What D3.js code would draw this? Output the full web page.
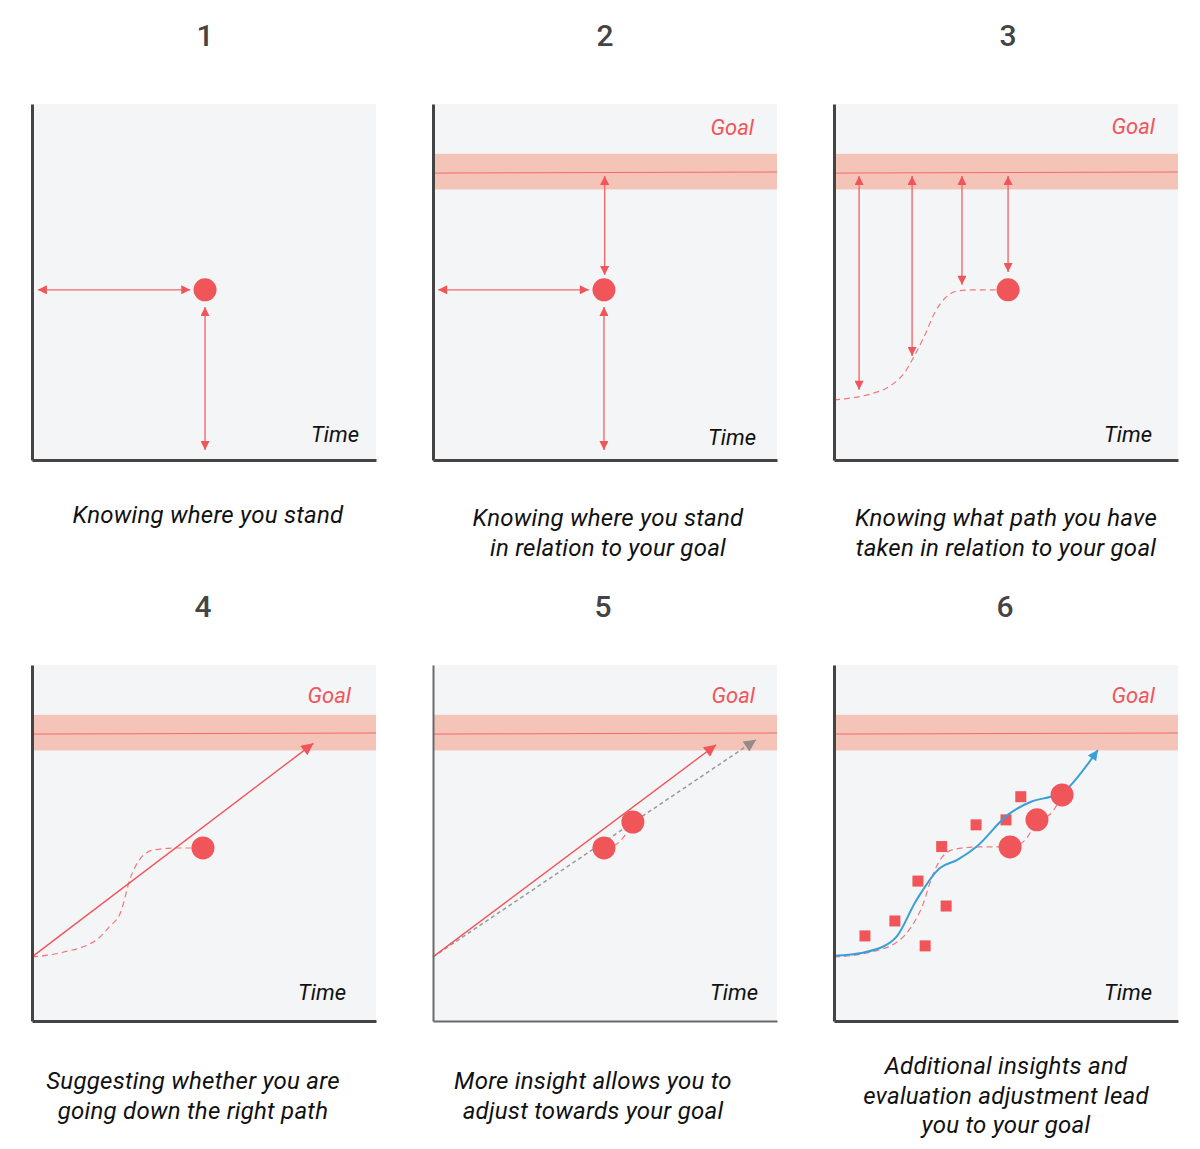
<!DOCTYPE html>
<html>
<head>
<meta charset="utf-8">
<script src="https://cdn.jsdelivr.net/npm/d3@7/dist/d3.min.js"></script>
<style>
  html, body { margin: 0; padding: 0; background: #ffffff; }
  svg { display: block; }
  text { font-family: Roboto, "Noto Sans", sans-serif; }
</style>
</head>
<body>
<svg id="chart" width="1200" height="1149"></svg>
<script>
// ---------- DATA (time 0-100, value 0-100 in each panel) ----------
const panelNumbers = ["1", "2", "3", "4", "5", "6"];
const captions = [
  ["Knowing where you stand"],
  ["Knowing where you stand", "in relation to your goal"],
  ["Knowing what path you have", "taken in relation to your goal"],
  ["Suggesting whether you are", "going down the right path"],
  ["More insight allows you to", "adjust towards your goal"],
  ["Additional insights and", "evaluation adjustment lead", "you to your goal"]
];
const axisLabel = "Time";
const goalLabel = "Goal";
const goalBand = [76, 86];
const goalLine = [80.6, 80.9];          // slight slope left -> right
const showGoal = [false, true, true, true, true, true];

// current position dots
const dotsP1 = [{t: 50.3, v: 47.8}];
const dotsP2 = [{t: 49.7, v: 47.8}];
const dotsP3 = [{t: 50.6, v: 47.8}];
const dotsP4 = [{t: 49.7, v: 48.6}];
const dotsP5 = [{t: 49.7, v: 48.6}, {t: 58.1, v: 55.9}];
const dotsP6 = [{t: 51.2, v: 48.9}, {t: 59.0, v: 56.5}, {t: 66.3, v: 63.5}];

// distance arrows [from, to]
const arrowsP1 = [
  [{t: 1.7, v: 47.8}, {t: 46.0, v: 47.8}],
  [{t: 50.3, v: 43.0}, {t: 50.3, v: 2.8}]
];
const arrowsP2 = [
  [{t: 1.5, v: 47.8}, {t: 45.3, v: 47.8}],
  [{t: 49.7, v: 43.0}, {t: 49.7, v: 2.8}],
  [{t: 49.9, v: 79.8}, {t: 49.9, v: 52.0}]
];
const checkTimesP3 = [7.3, 22.7, 37.2, 50.6];
const checkValuesP3 = [19.7, 29.2, 49.2, 52.8];
const goalArrowTop = 79.8;

// historic path (dashed)
const historyPath = [
  {t: 0, v: 16.9}, {t: 4.7, v: 17.4}, {t: 10.5, v: 18.5}, {t: 16.3, v: 20.8},
  {t: 20.6, v: 24.7}, {t: 23.5, v: 29.5}, {t: 26.4, v: 35.1}, {t: 29.4, v: 41.6},
  {t: 32.3, v: 45.5}, {t: 36.0, v: 47.5}, {t: 41.0, v: 47.8}, {t: 47.0, v: 47.8}
];
const historyPathP4 = [
  {t: 0, v: 18.0}, {t: 9.0, v: 19.3}, {t: 18.9, v: 22.9}, {t: 22.5, v: 26.5},
  {t: 25.8, v: 30.6}, {t: 28.5, v: 39.9}, {t: 31.4, v: 45.5}, {t: 35.2, v: 48.0},
  {t: 42.2, v: 48.6}, {t: 47.0, v: 48.6}
];
const historyPathP6 = [
  {t: 0, v: 18.0}, {t: 9.0, v: 19.0}, {t: 18.9, v: 22.6}, {t: 22.5, v: 26.5},
  {t: 25.8, v: 32.6}, {t: 28.5, v: 40.5}, {t: 31.4, v: 46.0}, {t: 35.2, v: 48.3},
  {t: 42.2, v: 48.9}, {t: 48.5, v: 48.9}
];

// trend arrows
const trendP4 = [{t: 0, v: 18.0}, {t: 81.8, v: 78.0}];
const trendP5 = [{t: 0, v: 18.0}, {t: 82.3, v: 77.6}];
const adjustedP5 = [{t: 0, v: 18.0}, {t: 93.9, v: 79.0}];

// panel 6: insights (squares) and adjusted path (blue)
const insightsP6 = [
  {t: 9.0, v: 23.9}, {t: 17.7, v: 28.1}, {t: 24.4, v: 39.3}, {t: 31.3, v: 49.0},
  {t: 32.6, v: 32.3}, {t: 26.5, v: 21.1}, {t: 41.3, v: 55.1}, {t: 50.0, v: 56.5},
  {t: 54.3, v: 63.0}
];
const adjustedPathP6 = [
  {t: 0, v: 18.3}, {t: 8.4, v: 19.2}, {t: 14.5, v: 21.0}, {t: 18.2, v: 23.7},
  {t: 24.0, v: 34.0}, {t: 30.8, v: 43.0}, {t: 35.7, v: 45.2}, {t: 41.5, v: 49.0},
  {t: 50.5, v: 57.9}, {t: 57.3, v: 61.6}, {t: 63.0, v: 63.0}, {t: 66.9, v: 64.5},
  {t: 76.7, v: 76.1}
];

// ---------- LAYOUT ----------
const W = 344, H = 356;
const lefts = [32, 433, 834];
const rowTops = [104, 665];
const titleX = [[205, 605, 1008], [203, 603, 1005]];
const titleY = [46, 617];
const captionX = [208, 608, 1006, 193, 593, 1006];
const captionY = [523, 526, 526, 1089, 1089, 1074];
const timeRight = [359, 756, 1152, 346, 758, 1152];
const timeOffset = [18, 15, 18, 21, 21, 21];
const goalRight = [0, 754, 1155, 351, 755, 1155];
const goalOffset = [0, 31, 30, 38, 38, 38];

const RED = "#f0555a";
const RED_LINE = "#f26a6a";
const BAND = "#f5c4b9";
const BG = "#f4f5f7";
const BLUE = "#3b9fd5";
const GRAY = "#9a9a9a";

const svg = d3.select("#chart");
const defs = svg.append("defs");
function marker(id, color, w, h) {
  defs.append("marker")
    .attr("id", id)
    .attr("viewBox", "0 0 10 10")
    .attr("refX", 10).attr("refY", 5)
    .attr("markerUnits", "userSpaceOnUse")
    .attr("markerWidth", w).attr("markerHeight", h)
    .attr("orient", "auto-start-reverse")
    .append("path").attr("d", "M0,0L10,5L0,10Z").attr("fill", color);
}
marker("arRed", RED, 10, 9);
marker("arRedBig", RED, 14, 12);
marker("arBlue", BLUE, 11, 10);
marker("arGray", "#948a8a", 14, 12);

const panels = panelNumbers.map((n, i) => {
  const row = Math.floor(i / 3), col = i % 3;
  const left = lefts[col], top = rowTops[row];
  const x = d3.scaleLinear().domain([0, 100]).range([left, left + W]);
  const y = d3.scaleLinear().domain([0, 100]).range([top + H, top]);
  return {i, n, row, col, left, top, x, y};
});

panels.forEach(p => {
  const g = svg.append("g");
  p.g = g;
  // title
  svg.append("text")
    .attr("x", titleX[p.row][p.col]).attr("y", titleY[p.row])
    .attr("text-anchor", "middle")
    .attr("font-size", 30).attr("font-weight", 500).attr("fill", "#444")
    .text(p.n);
  // background
  g.append("rect")
    .attr("x", p.x(0)).attr("y", p.y(100))
    .attr("width", p.x(100) - p.x(0)).attr("height", p.y(0) - p.y(100))
    .attr("fill", BG);
  // goal band
  if (showGoal[p.i]) {
    g.append("rect")
      .attr("x", p.x(0)).attr("y", p.y(goalBand[1]))
      .attr("width", p.x(100) - p.x(0)).attr("height", p.y(goalBand[0]) - p.y(goalBand[1]))
      .attr("fill", BAND);
    g.append("line")
      .attr("x1", p.x(0)).attr("x2", p.x(100))
      .attr("y1", p.y(goalLine[0])).attr("y2", p.y(goalLine[1]))
      .attr("stroke", RED_LINE).attr("stroke-width", 1);
    g.append("text")
      .attr("x", goalRight[p.i]).attr("y", p.top + goalOffset[p.i])
      .attr("text-anchor", "end")
      .attr("font-size", 22).attr("font-style", "italic").attr("fill", RED)
      .text(goalLabel);
  }
  // time label
  g.append("text")
    .attr("x", timeRight[p.i]).attr("y", p.y(0) - timeOffset[p.i])
    .attr("text-anchor", "end")
    .attr("font-size", 22).attr("font-style", "italic").attr("fill", "#111")
    .text(axisLabel);
  // captions
  const cap = svg.append("text")
    .attr("text-anchor", "middle")
    .attr("font-size", 24).attr("font-style", "italic").attr("fill", "#111")
    .attr("letter-spacing", 0.25);
  captions[p.i].forEach((line, k) => {
    cap.append("tspan").attr("x", captionX[p.i]).attr("y", captionY[p.i] + k * 29.5).text(line);
  });
});

function lineGen(p, curve) {
  return d3.line().x(d => p.x(d.t)).y(d => p.y(d.v)).curve(curve || d3.curveLinear);
}
function doubleArrow(p, pair) {
  p.g.append("path").attr("d", lineGen(p)(pair))
    .attr("fill", "none").attr("stroke", RED_LINE).attr("stroke-width", 1.4)
    .attr("marker-start", "url(#arRed)").attr("marker-end", "url(#arRed)");
}
function history(p, pts) {
  p.g.append("path").attr("d", lineGen(p, d3.curveMonotoneX)(pts))
    .attr("fill", "none").attr("stroke", "#f07a7a").attr("stroke-width", 1.2)
    .attr("stroke-dasharray", "6,4");
}
function connector(p, a, b) {
  const pts = [a, {t: a.t + (b.t - a.t) * 0.55, v: a.v + (b.v - a.v) * 0.1}, b];
  p.g.append("path").attr("d", lineGen(p, d3.curveBasis)(pts))
    .attr("fill", "none").attr("stroke", "#f07a7a").attr("stroke-width", 1.2)
    .attr("stroke-dasharray", "6,4");
}
function dots(p, arr) {
  p.g.selectAll(null).data(arr).enter().append("circle")
    .attr("cx", d => p.x(d.t)).attr("cy", d => p.y(d.v)).attr("r", 11.5)
    .attr("fill", RED);
}

// Panel 1
arrowsP1.forEach(a => doubleArrow(panels[0], a));
dots(panels[0], dotsP1);

// Panel 2
arrowsP2.forEach(a => doubleArrow(panels[1], a));
dots(panels[1], dotsP2);

// Panel 3
history(panels[2], historyPath);
checkTimesP3.forEach((t, k) => doubleArrow(panels[2], [{t, v: goalArrowTop}, {t, v: checkValuesP3[k]}]));
dots(panels[2], dotsP3);

// Panel 4
history(panels[3], historyPathP4);
panels[3].g.append("path").attr("d", lineGen(panels[3])(trendP4))
  .attr("fill", "none").attr("stroke", RED).attr("stroke-width", 1.4)
  .attr("marker-end", "url(#arRedBig)");
dots(panels[3], dotsP4);

// Panel 5
panels[4].g.append("path").attr("d", lineGen(panels[4])(adjustedP5))
  .attr("fill", "none").attr("stroke", GRAY).attr("stroke-width", 1.5)
  .attr("stroke-dasharray", "4,3")
  .attr("marker-end", "url(#arGray)");
panels[4].g.append("path").attr("d", lineGen(panels[4])(trendP5))
  .attr("fill", "none").attr("stroke", RED).attr("stroke-width", 1.4)
  .attr("marker-end", "url(#arRedBig)");
connector(panels[4], dotsP5[0], dotsP5[1]);
dots(panels[4], dotsP5);

// Panel 6
history(panels[5], historyPathP6);
connector(panels[5], dotsP6[0], dotsP6[1]);
connector(panels[5], dotsP6[1], dotsP6[2]);
panels[5].g.selectAll(null).data(insightsP6).enter().append("rect")
  .attr("x", d => panels[5].x(d.t) - 5.5).attr("y", d => panels[5].y(d.v) - 5.5)
  .attr("width", 11).attr("height", 11).attr("fill", RED);
panels[5].g.append("path").attr("d", lineGen(panels[5], d3.curveCatmullRom)(adjustedPathP6))
  .attr("fill", "none").attr("stroke", BLUE).attr("stroke-width", 2)
  .attr("marker-end", "url(#arBlue)");
dots(panels[5], dotsP6);

// Axes (drawn last, on top)
panels.forEach(p => {
  const ax = p.g.append("g").attr("transform", `translate(${p.x(0)},0)`)
    .call(d3.axisLeft(p.y).ticks(0).tickSizeOuter(0));
  const bx = p.g.append("g").attr("transform", `translate(0,${p.y(0)})`)
    .call(d3.axisBottom(p.x).ticks(0).tickSizeOuter(0));
  [ax, bx].forEach(a => a.select(".domain")
    .attr("stroke", p.i === 4 ? "#6a6a6a" : "#444")
    .attr("stroke-width", p.i === 4 ? 2 : 3));
});
</script>
</body>
</html>
